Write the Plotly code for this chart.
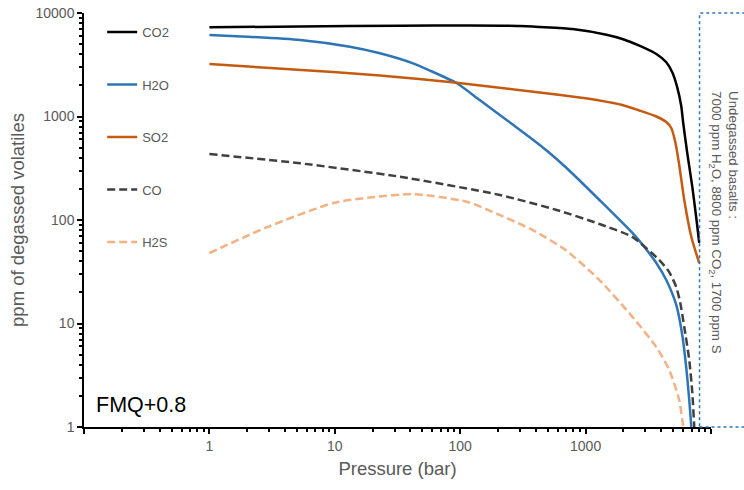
import math
import plotly.graph_objects as go

# ---------------- data ----------------
co2_p = [1, 5.3, 33, 119, 298, 430, 787, 1466, 1965, 2683, 3664, 4399, 4910, 5380, 5790, 6010, 6470, 7100, 7770, 8055]
co2_v = [7280, 7410, 7540, 7570, 7500, 7330, 7000, 6170, 5610, 4830, 4016, 3340, 2674, 1914, 1263, 856, 440, 208, 87.5, 60]

h2o_p = [1, 2.0, 5.3, 13.2, 22.9, 42.0, 57.3, 94, 143, 262, 378, 489, 705, 1290, 2362, 2943, 3664, 4399, 5284, 5900, 6350, 6710, 6970, 7100]
h2o_v = [6130, 5905, 5485, 4720, 4080, 3265, 2780, 2093, 1443, 837, 600, 469, 318, 156, 75, 54.8, 38.4, 26.3, 15.1, 7.74, 3.72, 1.82, 0.98, 0.67]

so2_p = [1, 3.06, 9.7, 22.9, 94, 430, 894, 1290, 1965, 2683, 3664, 4399, 4820, 5190, 5580, 6120, 6970, 8055]
so2_v = [3215, 2944, 2692, 2490, 2122, 1706, 1528, 1429, 1292, 1143, 1000, 885, 774, 567, 340, 156, 68.5, 38.4]

co_p = [1, 5.3, 33, 207, 587, 1290, 2362, 3872, 4645, 5284, 5690, 6120, 6710, 7100, 7360, 7490]
co_v = [434, 353, 262, 174.5, 125, 91.5, 68.5, 41, 31.4, 22.5, 15.8, 9.25, 4.44, 2.13, 0.98, 0.67]

h2s_p = [1, 2.9, 9.7, 19.8, 42, 113, 199, 378, 692, 1290, 2362, 3664, 4645, 5580, 6010, 6120]
h2s_v = [48, 85.5, 146, 166, 178, 150, 114, 80, 51.3, 26.3, 11.6, 5.93, 3.55, 1.82, 0.98, 0.67]

series = [
    ("CO2", co2_p, co2_v, "#000000", "solid"),
    ("H2O", h2o_p, h2o_v, "#2E75B6", "solid"),
    ("SO2", so2_p, so2_v, "#C55A11", "solid"),
    ("CO", co_p, co_v, "#404040", "8px,4px"),
    ("H2S", h2s_p, h2s_v, "#F4B183", "8px,4px"),
]

x_major = [0.1, 1, 10, 100, 1000, 10000]
x_major_text = ["", "1", "10", "100", "1000", ""]
y_major = [1, 10, 100, 1000, 10000]
y_major_text = ["1", "10", "100", "1000", "10000"]
minor_vals = [m * 10 ** e for e in range(-1, 4) for m in range(2, 10)]

undegassed_p = 8100

GRAY = "#595959"
FONT = "Liberation Sans, Arial, sans-serif"

fig = go.Figure()
for name, p, v, color, dash in series:
    fig.add_trace(go.Scatter(
        x=p, y=v, name=name, mode="lines", legendgroup=name,
        line=dict(color=color, width=2.5, dash=dash, shape="spline", smoothing=0.6),
    ))

axis_common = dict(
    type="log", showgrid=False, zeroline=False, automargin=False,
    showline=True, linecolor="black", linewidth=1.5,
    tickmode="array", ticks="outside", ticklen=5, tickwidth=1.5, tickcolor="black",
    tickfont=dict(size=14, color=GRAY),
    minor=dict(tickmode="array", tickvals=minor_vals, ticks="outside",
               ticklen=3, tickwidth=1.5, tickcolor="black", showgrid=False),
)

fig.update_layout(
    width=744, height=490,
    margin=dict(l=84, r=33, t=13, b=63),
    paper_bgcolor="white", plot_bgcolor="white",
    font=dict(family=FONT, color=GRAY, size=13),
    showlegend=True,
    legend=dict(x=0.029, y=0.99, xanchor="left", yanchor="top",
                bgcolor="rgba(0,0,0,0)", font=dict(size=13, color=GRAY),
                tracegroupgap=32.6, itemwidth=30),
    xaxis=dict(axis_common, range=[-1, 4], tickvals=x_major, ticktext=x_major_text,
               title=dict(text="Pressure (bar)", font=dict(size=18.5, color=GRAY), standoff=10)),
    yaxis=dict(axis_common, range=[0, 4], tickvals=y_major, ticktext=y_major_text,
               title=dict(text="ppm of degassed volatiles", font=dict(size=18.5, color=GRAY), standoff=6)),
)

# dotted box marking undegassed basalts
bx = (math.log10(undegassed_p) + 1) / 5
fig.add_shape(type="rect", xref="paper", yref="paper", x0=bx, x1=1.2, y0=0, y1=1,
              line=dict(color="#2E75B6", width=1.5, dash="dot"), fillcolor="rgba(0,0,0,0)")

fig.add_annotation(
    xref="paper", yref="paper", x=1.021, y=0.817, xanchor="center", yanchor="top",
    text="Undegassed basalts :<br>7000 ppm H<sub>2</sub>O, 8800 ppm CO<sub>2</sub>, 1700 ppm S",
    textangle=90, showarrow=False, align="left",
    font=dict(size=13.3, color=GRAY),
)

fig.add_annotation(
    xref="paper", yref="paper", x=0.016, y=0.053, xanchor="left", yanchor="middle",
    text="FMQ+0.8", showarrow=False, font=dict(size=21.5, color="black"),
)

fig.write_html("out.html")
